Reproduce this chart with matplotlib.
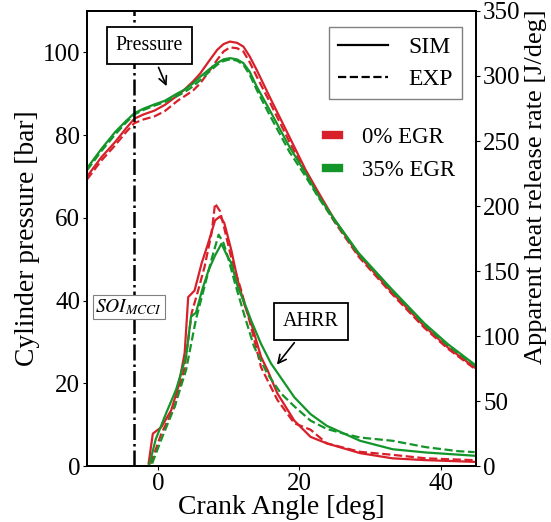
import matplotlib
matplotlib.use("Agg")
import matplotlib.pyplot as plt
from matplotlib.lines import Line2D

plt.rcParams['font.family'] = ['Liberation Serif', 'DejaVu Serif']
plt.rcParams['mathtext.fontset'] = 'stix'

RED = '#d8202a'
GREEN = '#14952a'

# cylinder pressure [bar]
ca_p = [-10, -8, -6, -4.5, -3.3, -2, -0.5, 1, 2.8, 3.7, 5, 6, 7.2, 8.4, 9.3, 10.2, 11.2, 12.1, 13, 14,
        15.8, 18.6, 20.9, 22.8, 25, 28.4, 33, 37.7, 41, 45]
p_sim_0 = [70.0, 74.6, 78.4, 81.6, 84.0, 85.0, 85.9, 87.3, 89.6, 90.9, 93.0, 94.9, 97.8, 100.6, 102.0, 102.6,
           102.3, 101.4, 99.0, 95.7, 89.3, 79.6, 71.6, 65.9, 59.5, 51.0, 42.2, 33.8, 28.7, 23.6]
p_exp_0 = [69.3, 73.8, 77.6, 80.7, 82.9, 83.8, 84.5, 85.8, 88.3, 89.3, 90.8, 92.5, 95.3, 98.2, 100.2, 101.2,
           101.0, 100.2, 97.6, 94.1, 88.1, 78.4, 70.8, 65.1, 59.0, 50.6, 41.8, 33.4, 28.4, 23.3]
p_sim_35 = [72.0, 76.6, 80.8, 83.4, 85.3, 86.4, 87.4, 88.3, 90.1, 90.9, 92.5, 94.1, 95.8, 97.4, 98.3, 98.6,
            98.3, 97.4, 95.3, 91.7, 86.1, 77.2, 70.8, 65.1, 59.6, 51.5, 42.9, 34.5, 29.5, 24.3]
p_exp_35 = [71.5, 76.1, 80.2, 83.0, 85.0, 86.1, 87.1, 88.0, 89.5, 90.3, 91.8, 93.3, 95.2, 97.0, 97.9, 98.3,
            98.0, 97.0, 94.6, 90.9, 84.9, 76.0, 70.0, 64.7, 59.2, 51.2, 42.6, 34.2, 29.2, 24.1]

# apparent heat release rate [J/deg]
ca_sim_0 = [-1.3, -0.7, 0.5, 1.9, 2.9, 3.8, 4.3, 5.2, 6.2, 7.1, 8.1, 8.8, 9.4, 10.4, 11.3, 12.2, 13.2, 14.6,
            15.5, 16.9, 19.3, 21.6, 23.9, 28.6, 33.2, 37.9, 44.8]
hr_sim_0 = [2, 25, 30, 43, 61, 87, 130, 135, 156, 171, 189, 192, 187, 166, 143, 125, 110, 84,
            74, 56, 35, 22.5, 17.5, 10, 6, 4.6, 3.3]
ca_exp_0 = [-1.0, 0.5, 2.4, 3.8, 4.8, 5.7, 6.6, 7.6, 8.1, 8.8, 9.4, 10.4, 11.8, 13.2, 14.6, 16.9, 19.3,
            21.6, 23.9, 28.6, 33.2, 37.9, 44.8]
hr_exp_0 = [2, 25, 46, 76, 118, 135, 153, 179, 202, 196, 183, 160, 135, 107, 76, 51, 33,
            28, 17.5, 11, 8.7, 6, 4.6]
ca_sim_35 = [-1.2, -0.3, 1.2, 2.6, 4.0, 4.7, 5.4, 6.3, 7.2, 8.1, 9.0, 9.7, 10.4, 11.3, 12.3, 13.2, 14.6,
             16.0, 17.4, 19.3, 21.6, 23.9, 28.6, 33.2, 37.9, 44.8]
hr_sim_35 = [1, 20.5, 41, 59, 84.5, 115, 118, 136, 151, 162, 171, 163, 156, 138, 125, 112, 94,
             79, 68, 53, 40, 31, 19.5, 13, 10.5, 8]
ca_exp_35 = [-0.8, 0.5, 2.4, 4.0, 5.4, 6.6, 7.6, 8.6, 9.3, 10.0, 10.9, 12.3, 13.6, 15.5, 17.4, 19.3, 21.6,
             23.9, 26.3, 28.6, 33.2, 35.6, 37.9, 42.5, 44.8]
hr_exp_35 = [2, 20.5, 46, 74, 113, 138, 159, 178, 171.5, 159, 141, 115, 92, 71, 56, 46, 35,
             28.6, 25, 22, 19.5, 17, 14.6, 11.5, 10.8]

soi = -3.3

fig = plt.figure(figsize=(5.51, 5.22), dpi=100)
ax = fig.add_axes([0.158, 0.107, 0.706, 0.872])
ax2 = ax.twinx()

lw = 1.6
ax.plot(ca_p, p_sim_0, color=RED, lw=lw)
ax.plot(ca_p, p_exp_0, color=RED, lw=lw, ls='--')
ax.plot(ca_p, p_sim_35, color=GREEN, lw=lw)
ax.plot(ca_p, p_exp_35, color=GREEN, lw=lw, ls='--')

ax2.plot(ca_sim_0, hr_sim_0, color=RED, lw=lw)
ax2.plot(ca_exp_0, hr_exp_0, color=RED, lw=lw, ls='--')
ax2.plot(ca_sim_35, hr_sim_35, color=GREEN, lw=lw)
ax2.plot(ca_exp_35, hr_exp_35, color=GREEN, lw=lw, ls='--')

ax.axvline(soi, color='black', lw=1.8, ls='-.')

ax.set_xlim(-10, 45)
ax.set_ylim(0, 110)
ax2.set_ylim(0, 350)
ax.set_xticks([0, 20, 40])
ax.set_yticks([0, 20, 40, 60, 80, 100])
ax2.set_yticks([0, 50, 100, 150, 200, 250, 300, 350])
ax.tick_params(labelsize=18, length=3, pad=2)
ax2.tick_params(labelsize=18, length=3, pad=2)
for a in (ax, ax2):
    for s in a.spines.values():
        s.set_linewidth(1.3)

ax.set_xlabel('Crank Angle [deg]', fontsize=20, labelpad=0)
ax.set_ylabel('Cylinder pressure [bar]', fontsize=19.8, labelpad=2)
ax2.set_ylabel('Apparent heat release rate [J/deg]', fontsize=19, labelpad=3)
ax2.yaxis.label.set_y(0.615)

ax.annotate('Pressure', xy=(1.4, 91.2), xytext=(-1.2, 101.6), fontsize=14.3,
            ha='center', va='center',
            bbox=dict(boxstyle='square,pad=0.45', fc='white', ec='black', lw=1.3),
            arrowprops=dict(arrowstyle='->', color='black', lw=1.2))
ax.annotate('AHRR', xy=(16.6, 24), xytext=(21.7, 35), fontsize=14.5,
            ha='center', va='center',
            bbox=dict(boxstyle='square,pad=0.45', fc='white', ec='black', lw=1.3),
            arrowprops=dict(arrowstyle='->', color='black', lw=1.2))
ax.text(-4.1, 38.4, '$SOI_{MCCI}$', fontsize=14, ha='center', va='center',
        bbox=dict(boxstyle='square,pad=0.12', fc='white', ec='gray', lw=0.8))

style_handles = [Line2D([], [], color='black', lw=1.6),
                 Line2D([], [], color='black', lw=1.6, ls='--')]
leg1 = ax.legend(style_handles, ['SIM', 'EXP'], loc='upper right', fontsize=17,
                 fancybox=False, edgecolor='gray', framealpha=1,
                 bbox_to_anchor=(0.995, 0.99), handlelength=2.1, borderpad=0.38,
                 handletextpad=0.9, labelspacing=0.45)
ax.add_artist(leg1)
color_handles = [Line2D([], [], color=RED, lw=6), Line2D([], [], color=GREEN, lw=6)]
ax.legend(color_handles, ['0% EGR', '35% EGR'], loc='upper right', fontsize=16.5,
          frameon=False, bbox_to_anchor=(1.0, 0.79), handlelength=0.6, handletextpad=1.0)

fig.savefig('out.png', dpi=100)
